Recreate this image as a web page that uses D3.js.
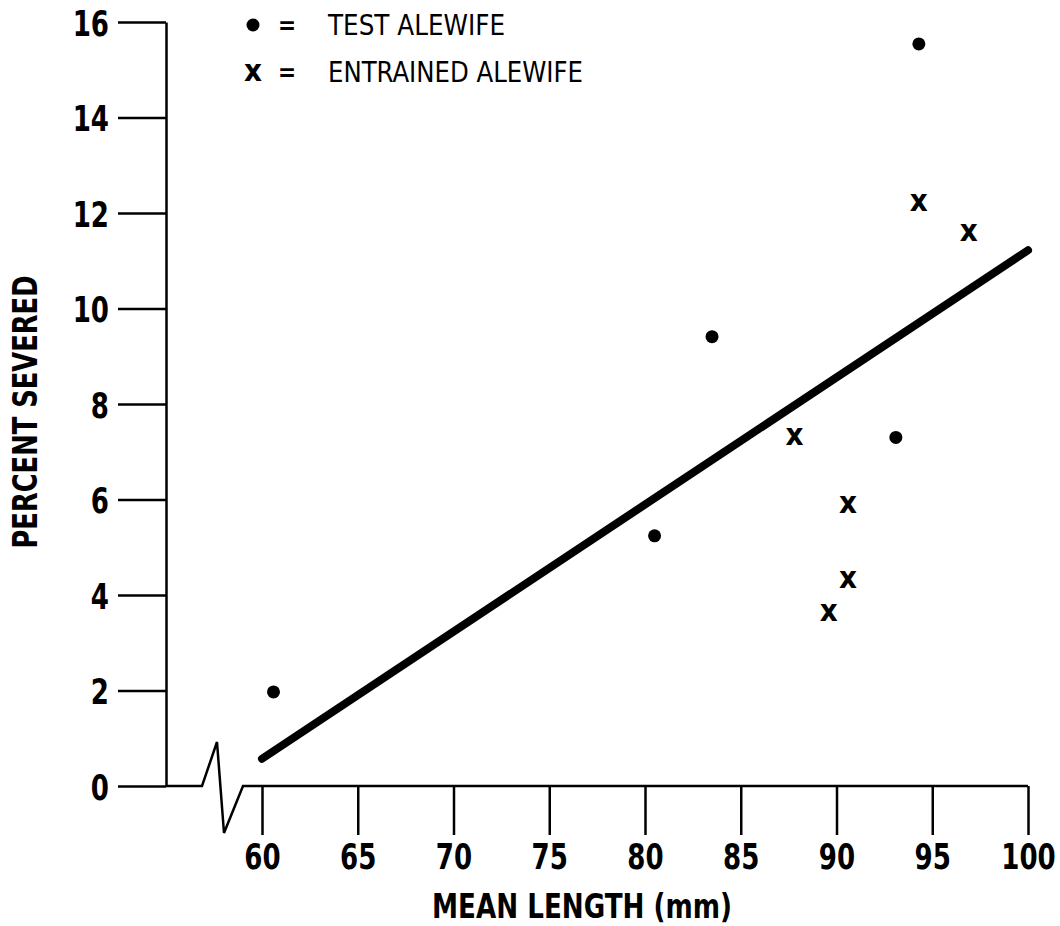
<!DOCTYPE html>
<html>
<head>
<meta charset="utf-8">
<script src="https://cdn.jsdelivr.net/npm/d3@7"></script>
<style>
  html, body { margin: 0; padding: 0; background: #fff; }
  svg { display: block; }
  text { font-family: "DejaVu Sans Condensed", "DejaVu Sans", sans-serif; fill: #000; }
</style>
</head>
<body>
<svg id="chart" width="1060" height="926"></svg>
<script>
// ---- Data ----
const xTicks = [60, 65, 70, 75, 80, 85, 90, 95, 100];
const yTicks = [0, 2, 4, 6, 8, 10, 12, 14, 16];

const testLength = [60.6, 80.5, 83.5, 93.1, 94.3];
const testSevered = [1.97, 5.24, 9.41, 7.30, 15.54];

const entrainedLength = [94.3, 96.9, 87.8, 90.6, 90.6, 89.6];
const entrainedSevered = [12.24, 11.61, 7.34, 5.92, 4.34, 3.64];

const fitLength = [60, 100];
const fitSevered = [0.57, 11.22];

const legendLabels = ["TEST ALEWIFE", "ENTRAINED ALEWIFE"];
const xTitle = "MEAN LENGTH (mm)";
const yTitle = "PERCENT SEVERED";

// ---- Layout ----
const svg = d3.select("#chart");
const x = d3.scaleLinear().domain([60, 100]).range([262, 1028]);
const y = d3.scaleLinear().domain([0, 16]).range([786, 22]);
const yAxisX = 166;
const tickFont = 29;
const stretch = 1.25;

// Y axis
const yAxis = d3.axisLeft(y).tickValues(yTicks).tickSize(48).tickSizeOuter(0).tickPadding(9);
const gy = svg.append("g").attr("transform", `translate(${yAxisX},0)`).call(yAxis);
gy.select(".domain").attr("stroke", "#000").attr("stroke-width", 2.5);
gy.selectAll(".tick line").attr("stroke", "#000").attr("stroke-width", 2.5);
gy.selectAll(".tick text").attr("font-size", tickFont).attr("font-weight", "bold")
  .attr("font-family", "'DejaVu Sans Condensed', sans-serif")
  .attr("dy", "0.36em")
  .attr("transform", `scale(1,${stretch})`);

// X axis (ticks + labels)
const xAxis = d3.axisBottom(x).tickValues(xTicks).tickSize(49).tickSizeOuter(0).tickPadding(8);
const gx = svg.append("g").attr("transform", `translate(0,${y(0)})`).call(xAxis);
gx.select(".domain").remove();
gx.selectAll(".tick line").attr("stroke", "#000").attr("stroke-width", 2.5);
gx.selectAll(".tick text").attr("font-size", tickFont).attr("font-weight", "bold")
  .attr("font-family", "'DejaVu Sans Condensed', sans-serif")
  .attr("y", 57 / stretch)
  .attr("transform", `scale(1,${stretch})`);

// X axis line with break
const y0 = y(0);
const x60 = x(60);
const brk = d3.path();
brk.moveTo(yAxisX, y0);
brk.lineTo(x60 - 60, y0);
brk.lineTo(x60 - 45, y0 - 44);
brk.lineTo(x60 - 38, y0 + 47);
brk.lineTo(x60 - 19, y0);
brk.lineTo(x(100), y0);
svg.append("path").attr("d", brk.toString()).attr("fill", "none")
  .attr("stroke", "#000").attr("stroke-width", 2.5).attr("stroke-linejoin", "miter");

// Regression line
const line = d3.line().x(d => x(d[0])).y(d => y(d[1]));
svg.append("path")
  .attr("d", line(fitLength.map((v, i) => [v, fitSevered[i]])))
  .attr("fill", "none").attr("stroke", "#000").attr("stroke-width", 8).attr("stroke-linecap", "round");

// Test points (dots)
svg.append("g").selectAll("circle")
  .data(testLength.map((v, i) => [v, testSevered[i]]))
  .join("circle")
  .attr("cx", d => x(d[0])).attr("cy", d => y(d[1])).attr("r", 6.5).attr("fill", "#000");

// Entrained points (x)
const xMark = sel => sel
  .attr("text-anchor", "middle").attr("dy", "0.3em")
  .attr("font-family", "'DejaVu Sans Condensed', 'DejaVu Sans', sans-serif")
  .attr("font-weight", "bold").attr("font-size", 31)
  .text("x");
svg.append("g").selectAll("text")
  .data(entrainedLength.map((v, i) => [v, entrainedSevered[i]]))
  .join("text")
  .attr("x", d => x(d[0])).attr("y", d => y(d[1]))
  .call(xMark);

// Legend
const lg = svg.append("g");
lg.append("circle").attr("cx", 253).attr("cy", 25).attr("r", 6.5).attr("fill", "#000");
lg.append("text").attr("x", 253).attr("y", 72).call(xMark);
[25, 72].forEach((cy, i) => {
  lg.append("text").attr("x", 287).attr("y", cy).attr("dy", "0.36em").attr("text-anchor", "middle")
    .attr("font-size", 24).attr("font-weight", "bold").text("=");
  lg.append("text").attr("x", 328).attr("y", cy).attr("dy", "0.36em")
    .attr("font-size", 29)
    .attr("textLength", i === 0 ? 177 : 255).attr("lengthAdjust", "spacingAndGlyphs")
    .text(legendLabels[i]);
});

// Axis titles
svg.append("text").attr("x", 582).attr("y", 918)
  .attr("text-anchor", "middle").attr("font-size", 34).attr("font-weight", "bold")
  .attr("textLength", 300).attr("lengthAdjust", "spacingAndGlyphs")
  .text(xTitle);

svg.append("text")
  .attr("transform", "translate(37,412) rotate(-90)")
  .attr("text-anchor", "middle").attr("font-size", 33).attr("font-weight", "bold")
  .attr("textLength", 273).attr("lengthAdjust", "spacingAndGlyphs")
  .text(yTitle);
</script>
</body>
</html>
